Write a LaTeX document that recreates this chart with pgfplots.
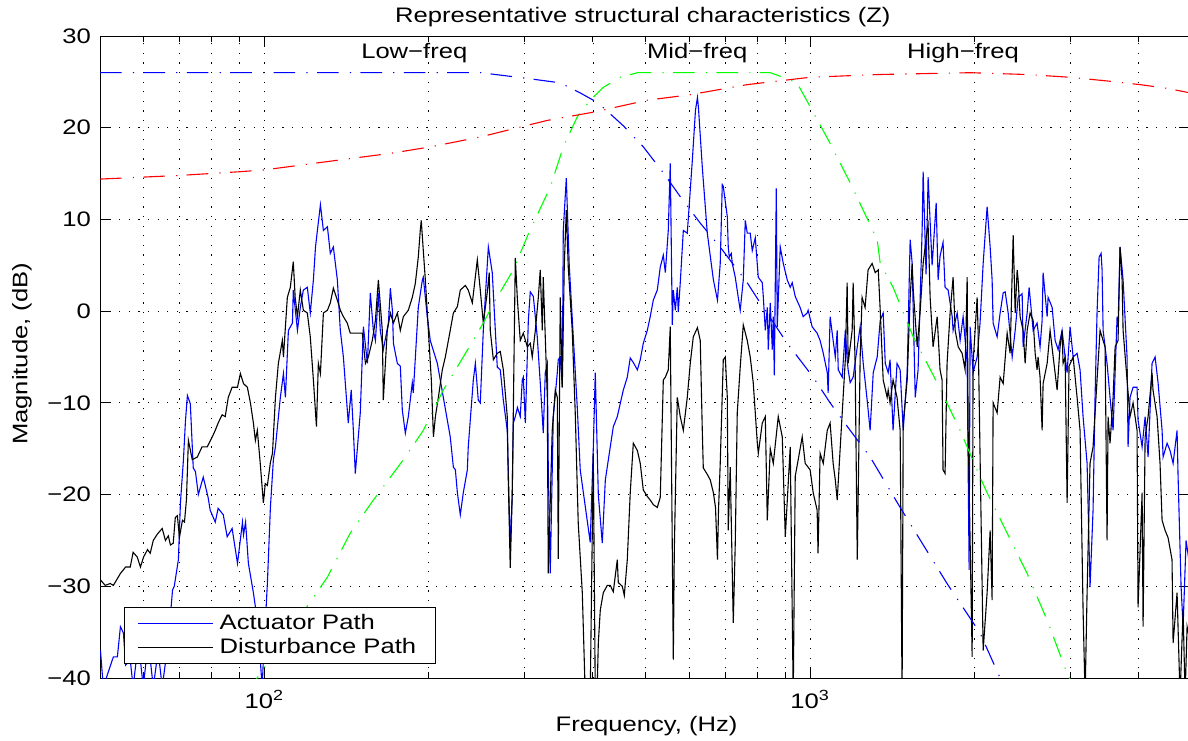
\documentclass[border=0pt]{standalone}
\usepackage{fontspec}
\setmainfont{Liberation Sans}[FakeStretch=1.22]
\usepackage{pgfplots}
\pgfplotsset{compat=1.18}
\begin{document}
\begin{tikzpicture}[font=\fontsize{10.5}{12.6}\selectfont]
\begin{axis}[
  name=ax,
  scale only axis, width=545pt, height=321pt,
  xmode=log, xmin=50, xmax=4966, ymin=-40, ymax=30,
  xtick={100,1000}, xticklabels={10\textsuperscript{2},10\textsuperscript{3}},
  minor xtick={60,70,80,90,200,300,400,500,600,700,800,900,2000,3000,4000},
  ytick={-40,-30,-20,-10,0,10,20,30},
  yticklabels={−40,−30,−20,−10,0,10,20,30},
  xmajorgrids, xminorgrids, ymajorgrids,
  major grid style={black, line width=0.4pt, dash pattern=on 0.6pt off 4.2pt},
  minor grid style={black, line width=0.4pt, dash pattern=on 0.6pt off 4.2pt},
  major tick length=5.5pt, minor tick length=3pt,
  every tick/.style={black, line width=0.5pt},
  axis line style={line width=0.5pt},
  tick align=inside,
  xticklabel style={anchor=base, yshift=-15pt},
  yticklabel style={xshift=-1pt},
  title={Representative structural characteristics (Z)},
  every axis title/.style={at={(axis description cs:0.498,1.0218)}, anchor=base},
  xlabel={Frequency, (Hz)},
  every axis x label/.style={at={(axis description cs:0.5014,-0.0841)}, anchor=base},
  ylabel={Magnitude, (dB)},
  every axis y label/.style={at={(axis description cs:-0.0716,0.505)}, rotate=90, anchor=center},
  legend style={at={(rel axis cs:0.022,0.0218)}, anchor=south west, line width=0.5pt,
    fill=white, inner xsep=6.5pt, inner ysep=1.5pt, row sep=-1pt, nodes={inner xsep=3pt, inner ysep=2pt}},
  legend cell align=left,
  legend image code/.code={\draw[#1] (0pt,0pt) -- (37.5pt,0pt);},
]
% Actuator path
\addplot[blue, line width=0.55pt, forget plot] coordinates {
(50.1,-37.0) (50.7,-41) (51.8,-39.3) (52.9,-37.7) (53.8,-37.7) (54.5,-34.4) (55.2,-35.1) (55.7,-38.6)
(56.8,-38) (57.5,-41) (58.8,-36) (60.0,-41) (61.3,-36) (62.6,-41) (63.9,-37) (65.0,-41) (66.7,-36)
(67.9,-30.4) (68.4,-30) (69.6,-27.1) (70.2,-20.9) (71.1,-16.2) (71.7,-12) (72.3,-9.2) (73.2,-10.1)
(74.1,-17.1) (74.8,-17.5) (75.7,-20) (77.3,-18.1) (78.9,-20.3) (79.6,-21.7) (81.3,-23) (82.3,-21.5)
(84.1,-22.2) (85.5,-24.6) (87.3,-23.7) (89.3,-27.5) (91.2,-23) (91.6,-24.4) (92.4,-23) (93.5,-27.5)
(95.5,-30.7) (97.1,-33.7) (98.3,-38) (99.1,-41) (99.6,-38) (101.3,-29.7) (102.6,-21.4) (103.9,-16.2)
(104.8,-14.8) (107.0,-9.4) (108.4,-6.8) (109.3,-9.4) (110.7,-2.1) (112.6,-1.3) (113.0,2.3) (115.0,-2.1)
(116.4,0.4) (117.9,2.3) (119.9,2.6) (121.4,-0.2) (123.0,3.4) (124.1,7) (125.1,8.8) (126.7,11.6)
(128.3,8.8) (130.5,9.2) (132.1,6.3) (133.8,7) (136.1,3.4) (137.8,-2.1) (139.6,-5) (142.5,-12.2)
(144.3,-8.6) (145.6,-13) (146.8,-17.7) (149.9,-11.1) (151.9,-1.7) (154.5,-5.7) (156.4,2) (158.4,-2.1)
(159.8,-3.2) (161.8,2) (163.1,-2.1) (165.2,-4.2) (168.8,-1.3) (170.2,2.5) (171.7,0) (172.4,-3.5)
(175.3,-5.7) (177.5,-6) (179.0,-10.8) (181.3,-13.3) (183.6,-11.5) (186.7,-7.8) (187.5,-8.9) (191.5,0.4)
(194.8,3.4) (195.6,3.7) (198.9,-0.6) (201.4,-3.2) (207.5,-5.7) (212.8,-9.4) (219.1,-13.7) (222.0,-17)
(223.9,-17.3) (225.8,-19.8) (228.6,-22.2) (231.5,-19.8) (235.5,-17.3) (236.4,-14.8) (241.5,-7.5)
(243.6,-5.7) (246.6,-9.7) (248.7,-10) (251.9,-2.1) (257.3,7) (261.6,4.2) (265.0,-2.1) (267.2,-6.1)
(270.6,-6.4) (274.1,-9.7) (278.7,-13) (282.2,-25.7) (284.6,-20) (285.9,-12.2) (288.3,-11.5) (290.9,-10.5)
(294.4,-11.5) (296.9,-7.5) (298.2,-7.2) (300.8,-12.2) (304.6,-1) (307.1,2.1) (311.1,1.6) (316.3,-2.8)
(320.3,-7.8) (323.1,-11.5) (324.4,-13.3) (327.2,-6.7) (330.0,-5.7) (331.3,-17) (334.1,-28.6) (338.4,-11.5)
(344.2,-6.7) (345.6,-5.3) (348.5,-5) (351.5,-8.3) (353.0,8.8) (357.5,14.5) (362.0,5) (374.5,-10.5)
(379.2,-17.3) (395.5,-25.2) (400.6,-15) (404.0,-6.7) (409.2,-20) (416.1,-25.3) (421.5,-18.4) (435.9,-12.6)
(443.3,-11.5) (454.7,-8.6) (462.4,-7.2) (468.2,-5.1) (474.3,-5.6) (482.5,-6.4) (488.4,-5.3) (494.7,-3.5)
(503.1,-2.1) (509.4,-0.6) (516.0,1.2) (524.8,2.3) (531.4,4.8) (538.3,6.1) (542.9,4.2) (549.7,8.8)
(554.3,16.1) (559.1,-1.5) (561.5,2.3) (566.3,0.1) (571.0,2.6) (573.4,-0.1) (578.2,3.1) (585.7,8.8)
(595.6,8.5) (608.5,16.5) (616.5,21.9) (621.7,23.3) (624.3,22.2) (634.5,15.7) (648.1,8.5) (665.0,3.4)
(676.5,1.2) (684.4,5.2) (690.3,13.8) (693.3,13.6) (705.1,10.3) (708.0,7) (711.0,5.9) (717.0,6.3)
(720.1,5.2) (729.3,3.7) (738.5,1.5) (744.7,0.1) (754.3,3.4) (760.7,9.9) (767.1,8.5) (776.8,8.5)
(783.5,6.6) (793.5,8) (803.5,3.7) (817.2,3.1) (820.7,1.6) (827.7,-2.1) (834.7,0.4) (838.2,-4.2)
(845.2,0.9) (852.5,-4.2) (856.1,-0.6) (859.8,-7) (867.0,13.4) (870.6,-1.7) (881.5,7) (892.9,5.2)
(908.1,3.4) (919.5,2.6) (927.3,3.1) (939.1,1.6) (958.7,0.4) (970.9,-0.6) (987.6,-0.2) (991.7,0.1)
(1008.6,-1.7) (1030,-2.4) (1043,-3.2) (1057,-4.6) (1075,-6.7) (1079,-8.9) (1088,-0.6) (1102,-3.2)
(1112,-5) (1121,-2.1) (1126,-6.4) (1145,-7.2) (1160,-2.1) (1169,-5.3) (1174,-6.4) (1184,-7.8)
(1199,-7.2) (1220,-3.9) (1235,-1.7) (1251,-5.7) (1272,-9.7) (1288,-13) (1305,-6.7) (1327,-5)
(1344,-1) (1361,-0.2) (1373,-5.7) (1390,-6.7) (1401,-5.3) (1419,-13) (1443,-5.7) (1462,-6.4)
(1481,-13) (1506,-6.7) (1525,7.8) (1538,5.2) (1558,-9.4) (1577,-6.4) (1604,8.8) (1611,15.2)
(1631,4) (1645,14.6) (1673,5) (1702,11.8) (1716,3.4) (1730,6) (1752,7.5) (1767,2.6) (1790,2.3)
(1821,-0.6) (1828,-2.1) (1860,-0.2) (1883,-3.2) (1907,-0.6) (1940,-5.7) (1956,-28.2) (1964,-1.7)
(1989,-6.7) (2023,-5) (2048,-1.3) (2075,5.2) (2110,11.4) (2137,7) (2155,3.4) (2164,-1.3) (2201,-2.8)
(2229,-0.2) (2258,2) (2277,2.1) (2306,-0.2) (2345,-5) (2375,-2.1) (2405,1.5) (2446,1.9) (2456,-3.9)
(2498,-0.2) (2519,2.6) (2562,-2.1) (2605,-1.3) (2638,-3.9) (2661,-1) (2672,4.2) (2718,-0.6)
(2729,1.5) (2776,0.4) (2811,-3.2) (2847,-4.2) (2895,-2.1) (2932,-5) (2957,-6.7) (2994,-1.7)
(3033,-5) (3084,-4.6) (3123,-6.4) (3163,-11.5) (3217,-16.6) (3257,-30.1) (3299,-21.7) (3327,-9.4)
(3355,-0.2) (3384,5.9) (3413,6.3) (3427,4.5) (3442,-2.1) (3500,-5.7) (3544,-9.4) (3590,-13)
(3651,-0.6) (3666,-1.7) (3697,7) (3745,3.4) (3808,-5) (3824,-14.8) (3856,-9.4) (3906,-8.3)
(3972,-8.3) (3989,-11.9) (4057,-14.8) (4109,-11.5) (4161,-15.9) (4231,-5.7) (4286,-5) (4340,-7.8)
(4414,-13) (4433,-15.9) (4508,-14.4) (4565,-15.2) (4624,-16.6) (4702,-13) (4722,-18) (4782,-30)
(4823,-34.4) (4884,-25) (4966,-28)
};
% Disturbance path
\addplot[black, line width=0.55pt, forget plot] coordinates {
(50.1,-29.3) (51.1,-29.9) (52.2,-29.7) (52.9,-29.9) (54.5,-28.6) (55.7,-27.9) (56.8,-27.9) (57.5,-26.3)
(58.5,-26.8) (59.3,-27.9) (60.1,-26.8) (61.1,-26) (61.8,-26.4) (62.6,-25) (63.7,-24.3) (65.0,-23.7)
(65.9,-25) (66.7,-24.5) (67.3,-25.5) (68.1,-25.3) (68.7,-22.5) (69.3,-22.3) (69.9,-24.7) (70.8,-22.8)
(71.4,-23) (72.0,-20.6) (72.6,-14.1) (73.8,-16.2) (75.4,-15.9) (76.9,-14.8) (78.6,-14.8) (80.3,-13.7)
(81.3,-13) (82.3,-12.2) (83.7,-11.3) (84.8,-11.5) (85.9,-9.4) (87.3,-8.3) (89.3,-8.3) (90.4,-6.8)
(91.6,-7.9) (93.1,-8.3) (94.3,-10) (95.5,-12.2) (96.3,-14.1) (97.1,-13) (98.3,-16.6) (99.6,-20.9)
(100.4,-18.8) (101.3,-19) (102.6,-16.5) (103.5,-15.5) (104.8,-9.4) (106.1,-5.7) (107.9,-3.2) (108.4,-5)
(110.2,1.5) (111.6,2.6) (113.0,5.4) (113.9,1.5) (115.0,-0.6) (116.4,2.3) (117.9,0.1) (119.9,-0.2)
(121.4,-2.8) (123.0,-7.5) (124.6,-12.6) (125.6,-5.7) (126.7,-6.8) (128.3,-0.2) (130.5,0.1) (132.1,0.9)
(133.8,2.5) (136.1,1.2) (137.8,0.1) (139.6,-0.6) (141.9,-1.3) (143.7,-2.4) (148.0,-2.4) (151.2,-2.4)
(153.2,-5.7) (155.1,-5) (157.7,-3.2) (159.8,-1) (161.8,3.4) (164.5,-2.1) (165.2,-9.7) (168.0,-2.1)
(170.2,-0.2) (172.4,-1.3) (175.3,-0.2) (177.5,-2.1) (179.8,-0.6) (183.6,0.1) (186.7,1.5) (189.1,3)
(191.5,5.9) (193.1,8.8) (193.9,9.9) (195.6,6.6) (197.3,3.4) (199.8,-2.1) (202.3,-7.5) (204.1,-13.7)
(205.8,-11.5) (208.4,-9.4) (211.9,-6.4) (214.6,-5) (219.1,-2.1) (222.0,-0.2) (225.8,0.5) (228.6,2.3)
(233.5,2.8) (236.4,2.3) (240.5,0.9) (245.6,5.6) (248.7,2.3) (251.9,-1.3) (256.2,2.1) (258.3,4.2)
(259.4,-2.1) (262.8,-5.3) (267.2,-4.6) (270.6,-4.4) (274.1,-6.4) (278.7,-11.5) (279.9,-18.4) (282.2,-28)
(284.6,-20) (288.3,5.8) (290.9,1.2) (294.4,-3.2) (298.2,-2.4) (303.3,-3.9) (307.1,-3.5) (309.7,-5)
(313.7,-2.1) (317.7,1.5) (320.3,4.5) (323.1,-2.1) (324.4,3.7) (330.0,-9.4) (331.3,-28.6) (336.9,-13)
(341.3,-8.6) (344.2,-9.4) (345.6,-27) (348.5,1.5) (351.5,-8.3) (354.5,5) (357.5,11) (360.5,4.8)
(366.6,-2.1) (371.3,-11.1) (376.0,-23.1) (382.5,-30.7) (387.4,-42) (395.5,-42) (400.6,-15.5) (404.0,-42)
(407.5,-40.5) (409.2,-36.2) (412.6,-32.6) (417.9,-30.7) (425.0,-29.9) (430.3,-29.9) (435.9,-30.6)
(443.3,-27.1) (445.2,-29.6) (452.8,-30) (456.6,-31) (462.4,-27.1) (468.2,-19.8) (474.3,-14.4)
(482.5,-15.2) (488.4,-16.6) (494.7,-19.5) (503.1,-20.2) (509.4,-20.6) (516.0,-21.1) (524.8,-21.4)
(531.4,-20.3) (538.3,-7.5) (542.9,-7.2) (549.7,-6.4) (554.3,-1.7) (559.1,-26) (561.5,-38) (563.9,-26)
(571.0,-9.4) (578.2,-11.5) (585.7,-13) (595.6,-9.4) (603.1,-5.7) (610.9,-2.8) (621.7,-1.8) (629.1,-3.2)
(634.5,-13) (637.2,-17.1) (648.1,-17.8) (656.2,-18.4) (665.0,-19.8) (670.9,-21.4) (676.5,-27.1)
(679.5,-21.6) (684.4,-16.6) (693.3,-5.3) (699.2,-5) (705.1,-9.4) (708.0,-23.9) (713.9,-17) (723.1,-34)
(729.3,-25.3) (735.4,-11.1) (744.7,-6.1) (754.3,-1.5) (767.1,-3.2) (776.8,-5) (786.8,-7.8) (800.3,-14.4)
(803.6,-15.5) (817.2,-12.2) (827.7,-11.5) (834.7,-22.8) (845.2,-15) (856.1,-16.6) (874.2,-11.5)
(889.1,-13.7) (900.5,-24.6) (919.5,-14.8) (931.2,-42) (939.1,-18) (950.9,-16.2) (967.2,-13.7)
(979.4,-16.6) (1000,-17.3) (1013,-19.8) (1030,-21.7) (1034,-26.4) (1043,-15.5) (1057,-16.6) (1075,-13)
(1088,-12.2) (1102,-16.6) (1112,-18.4) (1121,-20.6) (1145,-11.1) (1160,-5.3) (1169,3.1) (1174,-5.7)
(1194,-2.1) (1199,3.1) (1209,-5.7) (1220,-27.1) (1235,-5) (1245,1.5) (1261,0.4) (1277,4.5) (1299,5.2)
(1316,4.2) (1333,4.5) (1344,0.1) (1361,-7.5) (1384,-9.4) (1390,-8.6) (1401,-10) (1419,-7.5) (1443,-9.4)
(1462,-13) (1474,-42) (1481,-12.2) (1506,-7.5) (1525,1.5) (1538,5.2) (1545,2.3) (1571,-3.9) (1590,-0.2)
(1611,5.2) (1638,8.8) (1645,9.4) (1659,1.5) (1680,-3.9) (1709,-0.6) (1730,-6.4) (1745,-7.5) (1752,-17.3)
(1767,-17.7) (1782,-5.7) (1805,-0.2) (1828,3.7) (1844,-2.1) (1868,-3.9) (1899,-4.6) (1923,-6.4)
(1940,3.7) (1948,-13) (1981,-37.7) (1989,-5.7) (2023,1.5) (2031,-2.1) (2075,-37) (2110,-30.7)
(2137,-23.9) (2155,-31.5) (2164,-10) (2201,-11.1) (2229,-7.2) (2258,-7.9) (2296,-2.4) (2325,-4.6)
(2355,8.3) (2375,-0.2) (2395,4.5) (2405,3.4) (2425,-0.6) (2456,-2.1) (2477,-5.7) (2498,-2.1) (2529,-0.2)
(2562,-1) (2584,-4.6) (2605,-6.4) (2616,-5) (2638,-7.2) (2661,-13) (2672,-7.9) (2718,-5.7) (2752,-2.1)
(2788,-5) (2835,-8.6) (2870,-3.9) (2895,-2.1) (2907,-5.7) (2932,-5) (2957,-20.9) (2981,-6) (3033,-5)
(3084,-9.4) (3123,-13) (3163,-32.6) (3190,-42) (3217,-30.7) (3257,-16.6) (3299,-14.8) (3355,-7.5)
(3398,-2.1) (3442,-3.2) (3471,-3.9) (3500,-25) (3515,-11.5) (3544,-14.4) (3590,-9.4) (3621,-3.9)
(3666,-3.2) (3697,7) (3729,3.4) (3745,-2.1) (3808,-7.5) (3856,-11.5) (3906,-10) (3972,-13) (3989,-32.3)
(4057,-19.8) (4074,-34.4) (4109,-13.7) (4161,-11.5) (4231,-6.7) (4248,-8.6) (4322,-11.5) (4376,-16.6)
(4414,-22.8) (4470,-23.9) (4527,-24.7) (4603,-27.1) (4624,-36.2) (4702,-30.7) (4761,-42) (4823,-32.6)
(4864,-42) (4905,-34.4) (4966,-36)
};
% band weighting curves
\addplot[blue, line width=0.55pt, dash pattern=on 10.8pt off 5.6pt on 0.6pt off 4.7pt, forget plot] coordinates {
(50,26) (150,26) (220,26) (249,26) (301,25.4) (348,24.9) (379,23.8) (409,22.7) (455,20.2) (495,17.9)
(538,15.1) (578,12.5) (629,9.6) (684,7) (767,3.1) (810,0.9) (908,-3.5) (1013,-7.2) (1088,-10)
(1184,-13) (1288,-15.9) (1462,-21.4) (1782,-29.7) (2048,-35.1) (2229,-40) (2400,-44)
};
\addplot[green, line width=0.55pt, dash pattern=on 10.8pt off 5.6pt on 0.6pt off 4.7pt, forget plot] coordinates {
(94,-42) (97,-40) (121.4,-31.7) (130.5,-29) (143.7,-24.2) (158.4,-20.6) (179.8,-16.2) (195.6,-13)
(212.8,-8.6) (231.5,-5) (251.9,-1.3) (262.8,0.8) (285.9,4.5) (305,8.5) (334,13.5) (353,17.9) (374.5,21.2)
(395.5,23) (417.9,24.4) (448.9,25.5) (482.5,26) (845,26) (893,25.5) (946,24.9) (1000,22.3) (1088,18.3)
(1184,14) (1327,7.8) (1344,5.2) (1419,2.6) (1545,-2.8) (1709,-7.8) (1883,-13) (2048,-18.1) (2110,-19.8)
(2296,-24.2) (2498,-28.6) (2718,-33.7) (2957,-39.5) (3100,-42)
};
\addplot[red, line width=0.55pt, dash pattern=on 10.8pt off 5.6pt on 0.6pt off 4.7pt, forget plot] coordinates {
(50,14.4) (70,14.8) (90,15.2) (100,15.4) (138,16.5) (170,17.2) (201,17.9) (249,19) (330,20.8) (401,21.7)
(503,23) (603,23.6) (767,24.7) (1000,25.5) (1330,25.8) (1964,26) (2500,25.8) (2994,25.5) (3500,25.1)
(4022,24.7) (4500,24.3) (4966,23.8)
};
\addlegendimage{blue, line width=0.6pt}
\addlegendentry{Actuator Path}
\addlegendimage{black, line width=0.55pt}
\addlegendentry{Disturbance Path}
\node at (axis cs:188.3,28.15) {Low−freq};
\node at (axis cs:621.2,28.15) {Mid−freq};
\node at (axis cs:1906.5,28.15) {High−freq};
\end{axis}
\pgfresetboundingbox
\path[use as bounding box] ([xshift=-50pt,yshift=-31pt]ax.south west) rectangle ([xshift=544pt,yshift=339pt]ax.south west);
\end{tikzpicture}
\end{document}
